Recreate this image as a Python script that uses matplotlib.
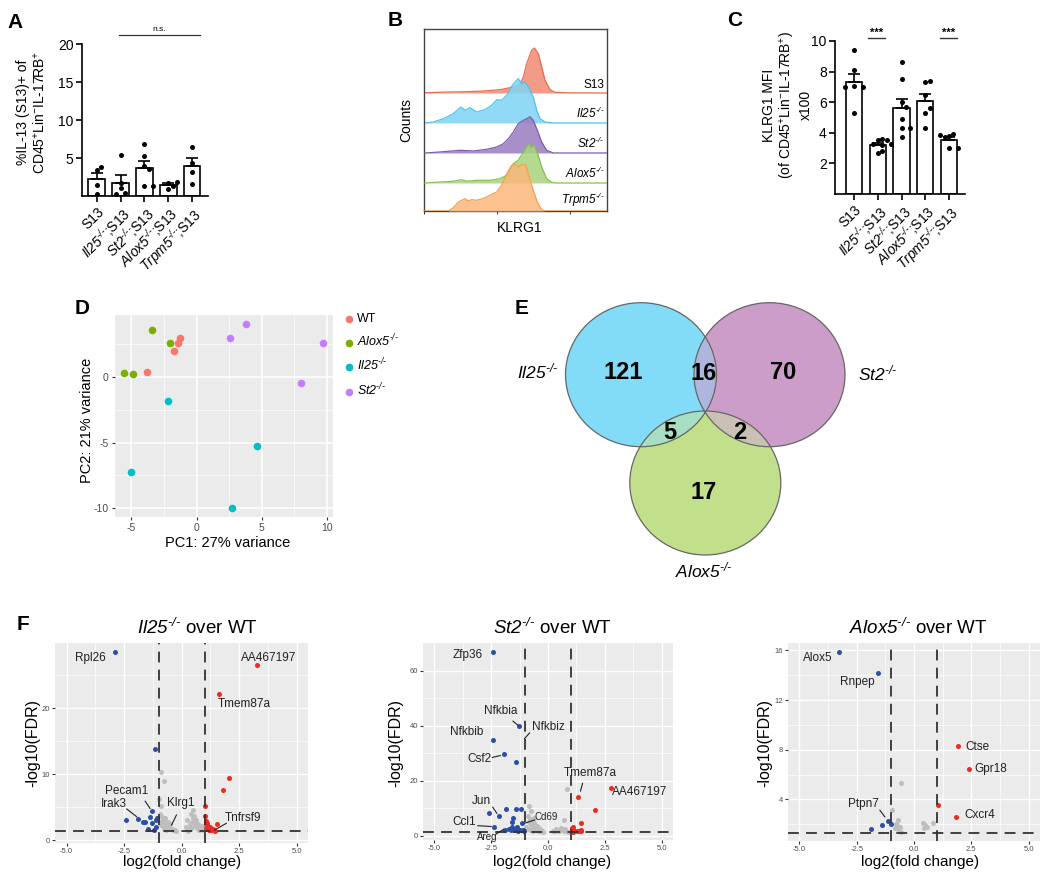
import matplotlib
matplotlib.use("Agg")
import matplotlib.pyplot as plt
import numpy as np
from matplotlib.patches import Ellipse

plt.rcParams['font.family'] = ['Liberation Sans', 'DejaVu Sans']
plt.rcParams['mathtext.fontset'] = 'custom'
plt.rcParams['mathtext.rm'] = 'Liberation Sans:italic'
plt.rcParams['mathtext.it'] = 'Liberation Sans:italic'
plt.rcParams['mathtext.bf'] = 'Liberation Sans:bold'
plt.rcParams['axes.unicode_minus'] = False

W, H = 1050, 881


def ko(g):
    return r'$%s^{‐/‐}$' % g


# ---------------- data ----------------
# A: %IL-13 (S13)+ cells
geno_labels = ['S13', ko('Il25') + ';S13', ko('St2') + ';S13', ko('Alox5') + ';S13', ko('Trpm5') + ';S13']
il13_S13 = [3.4, 3.8, 1.4, 0.3]
il13_Il25 = [5.4, 1.7, 1.0, 0.4, 0.3]
il13_St2 = [6.8, 5.2, 3.9, 3.6, 1.3, 1.3]
il13_Alox5 = [0.9, 1.75, 1.9, 1.3]
il13_Trpm5 = [6.5, 4.4, 3.1, 1.6]

# C: KLRG1 MFI (x100)
klrg1_S13 = [9.4, 8.1, 7.05, 7.0, 7.0, 5.3]
klrg1_Il25 = [3.5, 3.5, 3.6, 3.3, 3.3, 3.2, 2.65, 2.8]
klrg1_St2 = [8.6, 7.5, 6.0, 5.7, 4.9, 4.3, 4.3, 3.7]
klrg1_Alox5 = [7.3, 7.4, 6.5, 5.3, 5.6, 4.3]
klrg1_Trpm5 = [3.8, 3.9, 3.85, 3.7, 3.0, 3.0]

# B: KLRG1 histograms (position along axis 0-100, height)
hist_names = ['S13', ko('Il25'), ko('St2'), ko('Alox5'), ko('Trpm5')]
s13_x = [0, 14.2, 23.3, 32.4, 41.5, 47.0, 50.6, 52.5, 54.3, 56.1, 58.8, 60.3, 62.5, 64.3, 66.1, 68.9, 71.6, 78.0, 100]
s13_h = [0.3, 1, 1.3, 2, 3.3, 5.3, 6.7, 9.3, 16, 29.3, 42.7, 45, 39.3, 26, 12.7, 3.3, 0.7, 0.2, 0]
il25_x = [0.5, 5.1, 10.6, 16.0, 20.2, 22.4, 25.1, 28.8, 33.3, 37.0, 39.7, 42.4, 45.2, 47.9, 49.7, 51.5, 53.4, 55.2, 57.0, 59.7, 61.6, 63.4, 66.1, 70.7, 100]
il25_h = [0, 1, 4.3, 9.3, 16, 12.7, 15.3, 11, 13.3, 17.7, 23.3, 22.7, 27.7, 36.7, 41, 44.3, 39.3, 41, 36, 26, 12.7, 4.3, 1, 0, 0]
st2_x = [0.5, 8.7, 19.7, 27.0, 34.2, 39.7, 43.4, 46.1, 48.8, 51.5, 54.3, 56.1, 57.9, 59.7, 61.9, 64.3, 67.0, 70.7, 100]
st2_h = [0, 1, 2.7, 2, 3.7, 6, 9.3, 14.3, 21, 29.3, 32.7, 34.3, 36.3, 32.7, 22.7, 11, 2.7, 0, 0]
alox5_x = [0.5, 8.7, 16.0, 20.6, 23.3, 28.8, 36.1, 41.5, 45.2, 48.8, 51.5, 54.3, 57.0, 58.5, 60.3, 62.1, 64.3, 67.0, 69.8, 72.5, 100]
alox5_h = [0, 1, 1.7, 3.3, 1.7, 2.7, 2.7, 4.3, 7.7, 19.3, 22.7, 31, 39.3, 36, 37.7, 29.3, 16, 4.3, 0.7, 0, 0]
trpm5_x = [0, 13.3, 16.0, 18.8, 22.4, 24.2, 26.0, 28.8, 31.5, 34.2, 37.0, 39.7, 42.4, 45.2, 47.9, 49.7, 51.5, 53.4, 55.7, 57.5, 59.7, 61.9, 64.3, 66.1, 100]
trpm5_h = [0, 0, 3.3, 9, 12.3, 10, 11.3, 10.7, 12, 14, 16.7, 19, 25.7, 37.3, 45.7, 46.7, 44, 46.7, 45.7, 34, 20.7, 9, 1.3, 0, 0]

# D: PCA
pca_groups = ['WT', ko('Alox5'), ko('Il25'), ko('St2')]
pc_WT = ([-3.83, -1.74, -1.46, -1.25], [0.38, 1.95, 2.53, 2.91])
pc_Alox5 = ([-3.4, -2.04, -5.54, -4.85], [3.55, 2.53, 0.3, 0.2])
pc_Il25 = ([-2.22, 4.59, -5.05, 2.72], [-1.82, -5.26, -7.21, -9.95])
pc_St2 = ([2.55, 3.77, 9.69, 8.03], [2.96, 3.98, 2.53, -0.46])

# E: Venn counts
venn_only = [121, 70, 17]      # Il25, St2, Alox5
venn_pairs = [16, 5, 2]        # Il25&St2, Il25&Alox5, St2&Alox5

# F: volcano plots (log2 FC, -log10 FDR)
v1_blue_x = [-2.88, -1.15, -1.27, -1.36, -1.12, -2.42, -1.90, -1.68, -1.58, -1.44, -1.18, -1.12, -1.30, -1.05]
v1_blue_y = [28.6, 13.8, 4.45, 3.45, 3.0, 3.0, 3.2, 2.8, 2.75, 1.75, 1.55, 2.05, 2.6, 3.4]
v1_red_x = [3.29, 1.63, 2.06, 1.82, 1.02, 1.53, 1.02, 1.05, 1.10, 1.15, 1.05, 1.20, 1.30, 1.40, 1.10, 1.25, 1.45, 1.08, 1.18, 1.35]
v1_red_y = [26.5, 22.1, 9.47, 7.6, 5.2, 2.38, 3.6, 2.9, 2.6, 2.2, 1.9, 1.7, 1.5, 1.45, 1.6, 2.0, 1.4, 2.4, 1.5, 1.6]
v1_grey_x = [-0.89, -0.76, -0.98, -0.89, -0.92, -0.85, -0.80, -0.72, -0.65, -0.55, -0.45, -0.35, -0.25, -0.95, -0.88,
             -0.78, -0.68, -0.60, -0.50, -0.40, -0.30, -0.70, -0.58, 0.20, 0.28, 0.35, 0.42, 0.50, 0.55, 0.62, 0.70,
             0.78, 0.85, 0.92, 0.30, 0.45, 0.52, 0.60, 0.68, 0.75, 0.40, 0.58, 0.88, 0.25]
v1_grey_y = [10.3, 9.0, 6.2, 5.2, 4.0, 3.5, 3.0, 2.6, 2.2, 1.9, 1.6, 1.5, 1.4, 2.8, 2.3, 1.8, 1.5, 2.0, 2.4, 1.7, 1.5,
             3.3, 2.7, 2.0, 1.6, 2.5, 3.9, 4.5, 3.6, 3.0, 2.4, 2.0, 1.7, 1.5, 1.4, 2.8, 3.3, 2.2, 1.8, 1.5, 1.9, 2.6,
             2.2, 3.0]

v2_blue_x = [-2.43, -1.29, -2.43, -1.94, -1.42, -2.60, -2.17, -1.83, -1.42, -1.20, -1.53, -1.57, -1.13, -2.39, -1.57,
             -1.38, -1.72, -1.65, -1.50, -1.24, -1.10, -1.90, -1.05, -1.30]
v2_blue_y = [66.7, 39.7, 34.9, 29.6, 26.9, 8.1, 7.1, 9.5, 9.5, 9.5, 6.3, 5.1, 4.7, 3.3, 3.0, 3.3, 2.4, 2.2, 2.0, 2.2,
             2.0, 2.0, 1.6, 1.5]
v2_red_x = [2.75, 1.34, 2.06, 1.44, 1.05, 1.10, 1.15, 1.20, 1.10, 1.45, 1.45, 1.30, 1.12]
v2_red_y = [17.4, 14.1, 9.3, 4.7, 2.6, 2.2, 1.8, 1.5, 1.4, 2.0, 1.5, 1.6, 3.0]
v2_grey_x = [0.84, -0.84, -0.74, -0.90, -0.80, -0.70, -0.60, -0.50, -0.40, -0.30, -0.85, -0.75, -0.65, -0.55, -0.45,
             -0.88, -0.78, -0.68, -0.35, -0.20, 0.69, 0.20, 0.30, 0.40, 0.50, 0.60, 0.70, 0.80, 0.90, 0.35, 0.55, 0.75,
             -0.60, -0.95]
v2_grey_y = [16.8, 10.8, 8.8, 7.0, 6.0, 5.5, 4.5, 3.5, 2.8, 2.0, 4.8, 3.8, 3.0, 2.4, 1.8, 2.5, 2.0, 1.6, 1.5, 1.4,
             5.7, 1.5, 1.8, 2.2, 1.6, 2.0, 1.5, 1.8, 1.4, 2.5, 2.9, 2.3, 6.5, 3.0]

v3_blue_x = [-3.29, -1.59, -1.15, -1.0, -1.41, -1.87]
v3_blue_y = [15.9, 14.2, 2.25, 2.04, 1.96, 1.64]
v3_red_x = [1.91, 2.4, 1.04, 1.83]
v3_red_y = [8.27, 6.47, 3.57, 2.58]
v3_grey_x = [-0.58, -0.98, -0.69, -0.76, -0.85, -0.72, -0.62, -0.55, -0.80, 0.41, 0.48, 0.55, 0.85, 0.45]
v3_grey_y = [5.3, 3.1, 2.3, 1.95, 1.7, 1.6, 1.8, 1.4, 2.0, 2.1, 1.9, 1.8, 2.1, 1.7]

# gene labels: (name, text x, text y, leader segment or None, fontsize)
v1_labels = [('Rpl26', -3.96, 27.6, None, 8.5), ('AA467197', 3.79, 27.6, None, 8.5),
             ('Tmem87a', 2.74, 20.6, None, 8.5),
             ('Pecam1', -2.38, 7.4, (-1.58, 5.9, -1.37, 4.8), 8.5),
             ('Irak3', -2.95, 5.47, (-2.38, 4.71, -1.95, 3.54), 8.5),
             ('Klrg1', -0.03, 5.67, (-0.22, 3.8, -0.43, 2.28), 8.5),
             ('Tnfrsf9', 2.67, 3.3, (1.95, 2.54, 1.44, 1.52), 8.5)]
v2_labels = [('Zfp36', -3.53, 65.8, None, 8.5),
             ('Nfkbia', -2.06, 45.2, (-1.54, 41.6, -1.32, 40.1), 8.5),
             ('Nfkbib', -3.56, 37.5, None, 8.5),
             ('Nfkbiz', 0.03, 39.5, (-0.81, 37.3, -1.03, 35.3), 8.5),
             ('Csf2', -3.01, 27.8, (-2.45, 28.4, -2.1, 29.1), 8.5),
             ('Jun', -2.91, 12.6, (-2.43, 10.3, -2.25, 8.1), 8.5),
             ('Ccl1', -3.67, 4.85, (-3.09, 3.6, -2.5, 3.3), 8.5),
             ('Areg', -2.69, -0.6, (-2.28, 0.6, -1.95, 2.3), 7),
             ('Cd69', -0.07, 6.9, (-0.59, 5.7, -1.03, 4.5), 7),
             ('Tmem87a', 1.84, 22.6, (1.52, 19.0, 1.43, 16.2), 8.5),
             ('AA467197', 4.05, 15.9, None, 8.5)]
v3_labels = [('Alox5', -4.19, 15.4, None, 8.5), ('Rnpep', -2.47, 13.45, None, 8.5),
             ('Ctse', 2.77, 8.2, None, 8.5), ('Gpr18', 3.36, 6.47, None, 8.5),
             ('Cxcr4', 2.89, 2.71, None, 8.5),
             ('Ptpn7', -2.22, 3.6, (-1.49, 3.12, -1.27, 2.58), 8.5)]

# ---------------- figure ----------------
fig = plt.figure(figsize=(10.5, 8.81), dpi=100)


def rect(x0, y0, x1, y1):
    return [x0 / W, 1 - y1 / H, (x1 - x0) / W, (y1 - y0) / H]


def ftext(x, y, s, **kw):
    return fig.text(x / W, 1 - y / H, s, **kw)


def swarm(vals, ppx, ppy, d=4.6):
    placed, offs = [], []
    for v in vals:
        for k in [0, 1, -1, 2, -2, 3, -3]:
            ox = k * d * 0.95
            if all((ox - px) ** 2 + ((v - pv) * ppy) ** 2 >= d ** 2 for px, pv in placed):
                break
        placed.append((ox, v))
        offs.append(ox / ppx)
    return np.array(offs)


def bar_panel(ax, groups, ylim, yticks, xlim, ppx, ppy, width):
    for i, vals in enumerate(groups):
        vals = np.array(vals)
        m = vals.mean()
        sem = vals.std(ddof=1) / np.sqrt(len(vals))
        ax.bar(i, m, width=width, color='white', edgecolor='black', lw=1.2, zorder=1)
        ax.errorbar(i, m, yerr=[[0], [sem]], fmt='none', ecolor='black', elinewidth=1.2,
                    capsize=4.5, capthick=1.2, zorder=2)
        ax.plot(i + swarm(vals, ppx, ppy), vals, 'o', color='black', ms=3.6, mew=0, zorder=3, clip_on=False)
    ax.set_xlim(*xlim)
    ax.set_ylim(*ylim)
    ax.set_yticks(yticks)
    ax.set_xticks(range(len(groups)))
    ax.set_xticklabels(geno_labels, rotation=45, ha='right', rotation_mode='anchor', fontsize=10)
    for s in ['top', 'right']:
        ax.spines[s].set_visible(False)
    for s in ['left', 'bottom']:
        ax.spines[s].set_linewidth(1.2)
    ax.tick_params(length=4, width=1.2, labelsize=10, pad=2)


# ---- A ----
axA = fig.add_axes(rect(82, 44, 208, 196))
bar_panel(axA, [il13_S13, il13_Il25, il13_St2, il13_Alox5, il13_Trpm5], (0, 20), [5, 10, 15, 20],
          (-0.62, 4.67), 24, 7.6, 0.7)
axA.plot([0.92, 4.33], [21.2, 21.2], color='#333333', lw=0.9, clip_on=False)
axA.text(2.62, 21.5, 'n.s.', fontsize=6, ha='center', va='bottom')
ftext(32, 112, '%IL-13 (S13)+ of\nCD45$^{+}$Lin$^{-}$IL-17RB$^{+}$', rotation=90, ha='center', va='center',
      fontsize=10, linespacing=1.1, multialignment='center')

# ---- C ----
axC = fig.add_axes(rect(835, 41, 965, 194))
bar_panel(axC, [klrg1_S13, klrg1_Il25, klrg1_St2, klrg1_Alox5, klrg1_Trpm5], (0, 10), [2, 4, 6, 8, 10],
          (-0.8, 4.67), 23.7, 15.33, 0.68)
for x0, x1 in [(0.59, 1.31), (3.63, 4.35)]:
    axC.plot([x0, x1], [10.2, 10.2], color='#333333', lw=1.0, clip_on=False)
    axC.text((x0 + x1) / 2, 10.22, '***', fontsize=8, fontweight='bold', ha='center', va='bottom')
ftext(787, 105, 'KLRG1 MFI\n(of CD45$^{+}$Lin$^{-}$IL-17RB$^{+}$)\nx100', rotation=90, ha='center', va='center',
      fontsize=10, linespacing=1.15, multialignment='center')

# ---- B ----
axB = fig.add_axes(rect(424, 29, 607, 211))
hist_x = [s13_x, il25_x, st2_x, alox5_x, trpm5_x]
hist_h = [s13_h, il25_h, st2_h, alox5_h, trpm5_h]
fills = ['#F08A73', '#7ED4F4', '#9A7CC1', '#A8D47C', '#FBB77A']
lines = ['#EC6A50', '#4FC3EF', '#7D5BAE', '#86C04E', '#F9A04F']
offsets = [118, 88, 58, 28, 0]
for i in range(5):
    xs = 10 ** (np.array(hist_x[i]) / 20)
    hs = np.array(hist_h[i])
    axB.fill_between(xs, offsets[i], offsets[i] + hs, color=fills[i], alpha=0.85, lw=0, zorder=i + 1)
    axB.plot(xs, offsets[i] + hs, color=lines[i], lw=0.9, zorder=i + 1)
    axB.text(0.985, offsets[i] + 2, hist_names[i], transform=axB.get_yaxis_transform(), ha='right',
             va='bottom', fontsize=8.5, zorder=10)
axB.set_xscale('log')
axB.set_xlim(1, 1e5)
axB.set_ylim(0, 182)
axB.set_yticks([])
axB.tick_params(axis='x', which='both', labelbottom=False, length=2.5, width=0.7, color='#333333')
axB.tick_params(axis='x', which='minor', length=1.5)
for s in axB.spines.values():
    s.set_color('#444444')
    s.set_linewidth(1.0)
ftext(406, 120, 'Counts', rotation=90, ha='center', va='center', fontsize=10)
ftext(520, 228, 'KLRG1', ha='center', va='center', fontsize=10)

# ---- D ----
axD = fig.add_axes(rect(115, 315, 333, 517))
axD.set_facecolor('#EBEBEB')
pca_cols = ['#F8766D', '#7CAE00', '#00BFC4', '#C77CFF']
for (px, py), lab, c in zip([pc_WT, pc_Alox5, pc_Il25, pc_St2], pca_groups, pca_cols):
    axD.scatter(px, py, s=30, color=c, lw=0, label=lab, zorder=3)
axD.set_xlim(-6.25, 10.45)
axD.set_ylim(-10.65, 4.68)
axD.set_xticks([-5, 0, 5, 10])
axD.set_yticks([-10, -5, 0])
axD.set_xticks([-2.5, 2.5, 7.5], minor=True)
axD.set_yticks([-7.5, -2.5, 2.5], minor=True)
axD.grid(which='major', color='white', lw=1.1)
axD.grid(which='minor', color='white', lw=0.5)
axD.set_axisbelow(True)
for s in axD.spines.values():
    s.set_visible(False)
axD.tick_params(which='major', length=2.5, width=0.8, color='#333333', labelsize=7.5, labelcolor='#4D4D4D', pad=2)
axD.tick_params(which='minor', length=0)
ftext(228, 543, 'PC1: 27% variance', ha='center', va='center', fontsize=10.5)
ftext(87, 420, 'PC2: 21% variance', rotation=90, ha='center', va='center', fontsize=10.5)
axD.legend(loc='upper left', bbox_to_anchor=(341 / W, 1 - 313 / H), bbox_transform=fig.transFigure,
           frameon=False, fontsize=9, handletextpad=0.1, labelspacing=0.62, borderaxespad=0, borderpad=0,
           handlelength=1.2)

# ---- E ----
axE = fig.add_axes(rect(530, 290, 870, 590))
axE.set_xlim(530, 870)
axE.set_ylim(590, 290)
axE.axis('off')
centers = [(641, 374.7), (769.5, 374.7), (705.3, 483)]
ecols = ['#82DCF7', '#CC9DC9', '#C2E08B']
ells = []
for (cx, cy), c in zip(centers, ecols):
    e = Ellipse((cx, cy), 151, 144, facecolor=c, edgecolor='none', zorder=1)
    axE.add_patch(e)
    ells.append(e)
lens = [(0, 1, '#AEB6DE'), (0, 2, '#A7DEC4'), (1, 2, '#CAC1B4')]
for a, b, c in lens:
    e = Ellipse(centers[b], 151, 144, facecolor=c, edgecolor='none', zorder=2)
    axE.add_patch(e)
    e.set_clip_path(ells[a])
for cx, cy in centers:
    axE.add_patch(Ellipse((cx, cy), 151, 144, facecolor='none', edgecolor='#666666', lw=0.9, zorder=3))
num_pos = [(623, 372), (783, 372), (704, 492), (704, 373), (670, 432), (740, 432)]
for (x, y), n in zip(num_pos, venn_only + venn_pairs):
    axE.text(x, y, str(n), ha='center', va='center', fontsize=17, fontweight='bold', zorder=5)
axE.text(538, 371, ko('Il25'), ha='center', va='center', fontsize=12.5)
axE.text(878, 373, ko('St2'), ha='center', va='center', fontsize=12.5, clip_on=False)
axE.text(704, 570, ko('Alox5'), ha='center', va='center', fontsize=12.5)


# ---- F ----
def volcano(box, bx, by, rx, ry, gx, gy, ylim, yticks, yminor, labels):
    ax = fig.add_axes(rect(*box))
    ax.set_facecolor('#EBEBEB')
    ax.scatter(gx, gy, s=13, color='#BEBEBE', lw=0, zorder=3)
    ax.scatter(bx, by, s=13, color='#2D4FA3', lw=0, zorder=4)
    ax.scatter(rx, ry, s=13, color='#EE2A1E', lw=0, zorder=4)
    ax.set_xlim(-5.5, 5.5)
    ax.set_ylim(*ylim)
    ax.set_xticks([-5, -2.5, 0, 2.5, 5])
    ax.set_xticklabels(['-5.0', '-2.5', '0.0', '2.5', '5.0'])
    ax.set_xticks([-3.75, -1.25, 1.25, 3.75], minor=True)
    ax.set_yticks(yticks)
    ax.set_yticks(yminor, minor=True)
    ax.grid(which='major', color='white', lw=1.0)
    ax.grid(which='minor', color='white', lw=0.5)
    ax.set_axisbelow(True)
    for s in ax.spines.values():
        s.set_visible(False)
    ax.tick_params(which='major', length=2.5, width=0.8, color='#333333', labelsize=5.5, labelcolor='#4D4D4D', pad=1)
    ax.tick_params(which='minor', length=0)
    for xv in (-1, 1):
        ax.axvline(xv, color='#333333', lw=1.3, dashes=(6, 4), zorder=5)
    ax.axhline(-np.log10(0.05), color='#333333', lw=1.3, dashes=(6, 4), zorder=5)
    for name, tx, ty, seg, fs in labels:
        ax.text(tx, ty, name, ha='center', va='center', fontsize=fs, color='#222222', zorder=6)
        if seg is not None:
            ax.plot([seg[0], seg[2]], [seg[1], seg[3]], color='#222222', lw=0.8, zorder=6)
    return ax


volcano((55, 643, 308, 843), v1_blue_x, v1_blue_y, v1_red_x, v1_red_y, v1_grey_x, v1_grey_y,
        (-0.45, 29.9), [0, 10, 20], [5, 15, 25], v1_labels)
volcano((423, 643, 673, 840), v2_blue_x, v2_blue_y, v2_red_x, v2_red_y, v2_grey_x, v2_grey_y,
        (-1.6, 70), [0, 20, 40, 60], [10, 30, 50], v2_labels)
volcano((788, 643, 1040, 841), v3_blue_x, v3_blue_y, v3_red_x, v3_red_y, v3_grey_x, v3_grey_y,
        (0.64, 16.6), [4, 8, 12, 16], [2, 6, 10, 14], v3_labels)

for tx, lx, yx, g in [(197, 182, 33, 'Il25'), (552, 552, 396, 'St2'), (918, 920, 765, 'Alox5')]:
    ftext(tx, 628, ko(g) + ' over WT', ha='center', va='center', fontsize=13.5)
    ftext(lx, 862, 'log2(fold change)', ha='center', va='center', fontsize=11)
    ftext(yx, 743, '-log10(FDR)', rotation=90, ha='center', va='center', fontsize=11.5)

# panel letters
for lab, x, y in [('A', 15, 22), ('B', 395, 20), ('C', 735, 20), ('D', 82, 308), ('E', 522, 308), ('F', 23, 625)]:
    ftext(x, y, lab, ha='center', va='center', fontsize=15, fontweight='bold')

fig.savefig('out.png', dpi=100)
